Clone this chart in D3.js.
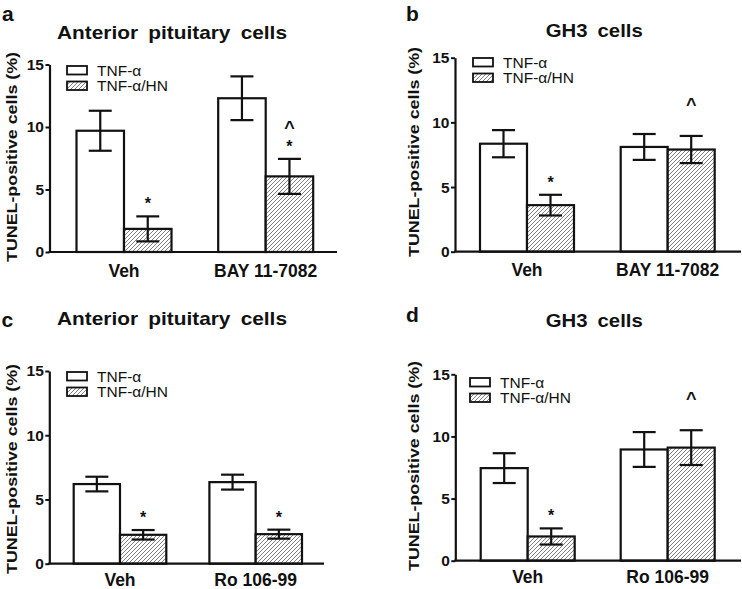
<!DOCTYPE html>
<html><head><meta charset="utf-8">
<script src="https://cdn.jsdelivr.net/npm/d3@7"></script>
<style>
html,body{margin:0;padding:0;background:#fff;}
svg text{font-family:Arial,"Liberation Sans",sans-serif;fill:#111;}
</style></head>
<body><svg id="chart" width="742" height="589"></svg>
<script>
// ---- data ----
const seriesNames = ["TNF-α", "TNF-α/HN"];
const yTicks = [0, 5, 10, 15];

const catsA = ["Veh", "BAY 11-7082"];
const tnfA = [9.7, 12.3];
const tnfErrA = [1.6, 1.75];
const hnA = [1.85, 6.05];
const hnErrA = [1.0, 1.4];
const marksA = [["*"], ["*", "^"]];

const catsB = ["Veh", "BAY 11-7082"];
const tnfB = [8.35, 8.1];
const tnfErrB = [1.05, 1.0];
const hnB = [3.6, 7.9];
const hnErrB = [0.8, 1.05];
const marksB = [["*"], ["^"]];

const catsC = ["Veh", "Ro 106-99"];
const tnfC = [6.2, 6.35];
const tnfErrC = [0.57, 0.58];
const hnC = [2.25, 2.3];
const hnErrC = [0.37, 0.35];
const marksC = [["*"], ["*"]];

const catsD = ["Veh", "Ro 106-99"];
const tnfD = [7.45, 8.95];
const tnfErrD = [1.2, 1.4];
const hnD = [1.95, 9.1];
const hnErrD = [0.65, 1.4];
const marksD = [["*"], ["^"]];

const titles = ["Anterior pituitary cells", "GH3 cells", "Anterior pituitary cells", "GH3 cells"];
const letters = ["a", "b", "c", "d"];
const yLabel = "TUNEL-positive cells (%)";

// ---- layout (positions only) ----
const panels = [
  {cats:catsA, tnf:tnfA, tnfE:tnfErrA, hn:hnA, hnE:hnErrA, marks:marksA,
   left:49.5, right:337, y0:252, y15:64.5, c0:124, c1:265.7, bw:47.5, xl:24.5,
   title:[172,39,230], letter:[2,20.7], yl:[11,157], leg:[67,66]},
  {cats:catsB, tnf:tnfB, tnfE:tnfErrB, hn:hnB, hnE:hnErrB, marks:marksB,
   left:455, right:741, y0:251.7, y15:57.7, c0:527, c1:667.7, bw:47, xl:24.5,
   title:[594.3,37.3,97], letter:[406,20.7], yl:[413,152], leg:[473,58]},
  {cats:catsC, tnf:tnfC, tnfE:tnfErrC, hn:hnC, hnE:hnErrC, marks:marksC,
   left:49.3, right:324, y0:563.7, y15:371, c0:120, c1:255.7, bw:46.3, xl:22.5,
   title:[172,324.5,230], letter:[1.5,326.7], yl:[11,469], leg:[67,372]},
  {cats:catsD, tnf:tnfD, tnfE:tnfErrD, hn:hnD, hnE:hnErrD, marks:marksD,
   left:455.3, right:741, y0:560.7, y15:374.3, c0:527.7, c1:667.7, bw:47, xl:22.5,
   title:[594.3,327,97], letter:[406,321.7], yl:[413,466], leg:[470,378]}
];

const svg = d3.select("#chart");
const defs = svg.append("defs");
const pat = defs.append("pattern").attr("id","hatch").attr("patternUnits","userSpaceOnUse")
  .attr("width",4).attr("height",4);
pat.append("rect").attr("width",4).attr("height",4).attr("fill","#fff");
pat.append("path").attr("d","M-1,1 l2,-2 M0,4 l4,-4 M3,5 l2,-2")
  .attr("stroke","#707070").attr("stroke-width",0.9);

panels.forEach((p, i) => {
  const g = svg.append("g");
  const y = d3.scaleLinear().domain([0, 15]).range([p.y0, p.y15]);
  const x = d3.scalePoint().domain(p.cats).range([p.c0, p.c1]);

  // letter & title
  g.append("text").attr("x", p.letter[0]).attr("y", p.letter[1])
    .attr("font-size", 21).attr("font-weight", "bold").text(letters[i]);
  g.append("text").attr("x", p.title[0]).attr("y", p.title[1])
    .attr("text-anchor","middle").attr("font-size", 19).attr("font-weight","bold")
    .attr("textLength", p.title[2]).attr("lengthAdjust","spacingAndGlyphs")
    .attr("word-spacing", 4).text(titles[i]);

  // y label
  g.append("text").attr("transform", `translate(${p.yl[0]},${p.yl[1]}) rotate(-90)`)
    .attr("text-anchor","middle").attr("dominant-baseline","central")
    .attr("font-size", 15).attr("font-weight","bold")
    .attr("textLength", 210).attr("lengthAdjust","spacingAndGlyphs")
    .text(yLabel);

  // bars
  const rows = p.cats.map((c, j) => ({c, v:[p.tnf[j], p.hn[j]], e:[p.tnfE[j], p.hnE[j]], m:p.marks[j]}));
  rows.forEach(r => {
    [0, 1].forEach(s => {
      const bx = s === 0 ? x(r.c) - p.bw : x(r.c);
      g.append("rect").attr("x", bx).attr("y", y(r.v[s]))
        .attr("width", p.bw).attr("height", y(0) - y(r.v[s]))
        .attr("fill", s === 0 ? "#fff" : "url(#hatch)")
        .attr("stroke", "#111").attr("stroke-width", 2.2);
      const cx = bx + p.bw / 2;
      const hi = y(r.v[s] + r.e[s]), lo = y(r.v[s] - r.e[s]);
      const eb = g.append("g").attr("stroke","#111").attr("stroke-width",2.2);
      eb.append("line").attr("x1",cx).attr("x2",cx).attr("y1",hi).attr("y2",lo);
      eb.append("line").attr("x1",cx-11.5).attr("x2",cx+11.5).attr("y1",hi).attr("y2",hi);
      eb.append("line").attr("x1",cx-11.5).attr("x2",cx+11.5).attr("y1",lo).attr("y2",lo);
      if (s === 1) {
        r.m.forEach((m, k) => {
          const isStar = m === "*";
          const off = isStar ? 17 + 20 * k : 37;
          g.append("text").attr("x", cx).attr("y", hi - off + (isStar ? 10 : 12))
            .attr("text-anchor","middle").attr("font-size", isStar ? 16 : 18).attr("font-weight","bold")
            .text(m);
        });
      }
    });
  });

  // axes
  const ya = d3.axisLeft(y).tickValues(yTicks).tickSize(4).tickSizeOuter(0).tickPadding(1.5);
  const ag = g.append("g").attr("transform", `translate(${p.left},0)`).call(ya);
  ag.select(".domain").attr("stroke","#111").attr("stroke-width",2.2);
  ag.selectAll(".tick line").attr("stroke","#111").attr("stroke-width",2);
  ag.selectAll(".tick text").attr("font-size",15.5).attr("font-weight","bold")
    .attr("font-family","Arial, 'Liberation Sans', sans-serif").attr("fill","#111");
  g.append("line").attr("x1", p.left - 1).attr("x2", p.right)
    .attr("y1", y(0)).attr("y2", y(0)).attr("stroke","#111").attr("stroke-width",2.2);

  // x labels
  p.cats.forEach(c => {
    g.append("text").attr("x", x(c)).attr("y", y(0) + p.xl)
      .attr("text-anchor","middle").attr("font-size",17.5).attr("font-weight","bold").text(c);
  });

  // legend
  seriesNames.forEach((n, s) => {
    const ly = p.leg[1] + s * 15.5;
    g.append("rect").attr("x", p.leg[0]).attr("y", ly).attr("width", 20).attr("height", 8.5)
      .attr("fill", s === 0 ? "#fff" : "url(#hatch)").attr("stroke","#111").attr("stroke-width",1.8);
    g.append("text").attr("x", p.leg[0] + 30).attr("y", ly + 9.5)
      .attr("font-size", 15.5).text(n);
  });
});
</script></body></html>
